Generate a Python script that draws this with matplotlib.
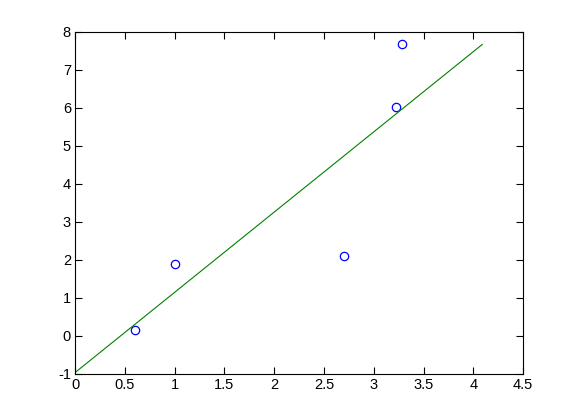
import matplotlib
matplotlib.use("Agg")
import matplotlib.pyplot as plt

# data points
x_pts = [0.6, 1.0, 2.7, 3.22, 3.28]
y_pts = [0.15, 1.89, 2.10, 6.02, 7.68]

# fitted line endpoints
x_line = [0.0, 4.09]
y_line = [-0.966, 7.66]

x_ticks = [0, 0.5, 1, 1.5, 2, 2.5, 3, 3.5, 4, 4.5]
x_labels = ["0", "0.5", "1", "1.5", "2", "2.5", "3", "3.5", "4", "4.5"]
y_ticks = [-1, 0, 1, 2, 3, 4, 5, 6, 7, 8]
y_labels = ["-1", "0", "1", "2", "3", "4", "5", "6", "7", "8"]

plt.rcParams['font.family'] = ['Liberation Sans', 'DejaVu Sans']

fig = plt.figure(figsize=(5.78, 4.2), dpi=100, facecolor='white')
ax = fig.add_axes([0.13, 0.11, 0.775, 0.815])

ax.plot(x_pts, y_pts, linestyle='none', marker='o', markersize=6,
        markerfacecolor='none', markeredgecolor='#0000ff', markeredgewidth=0.9)
ax.plot(x_line, y_line, color='#008000', linewidth=0.8)

ax.set_xlim(0, 4.5)
ax.set_ylim(-1, 8)
ax.set_xticks(x_ticks)
ax.set_xticklabels(x_labels)
ax.set_yticks(y_ticks)
ax.set_yticklabels(y_labels)
ax.tick_params(direction='in', top=True, right=True, length=5, width=0.8,
               labelsize=10.5, colors='black', pad=3)
for s in ax.spines.values():
    s.set_linewidth(0.8)
    s.set_color('black')

fig.savefig("out.png", dpi=100, facecolor='white')
